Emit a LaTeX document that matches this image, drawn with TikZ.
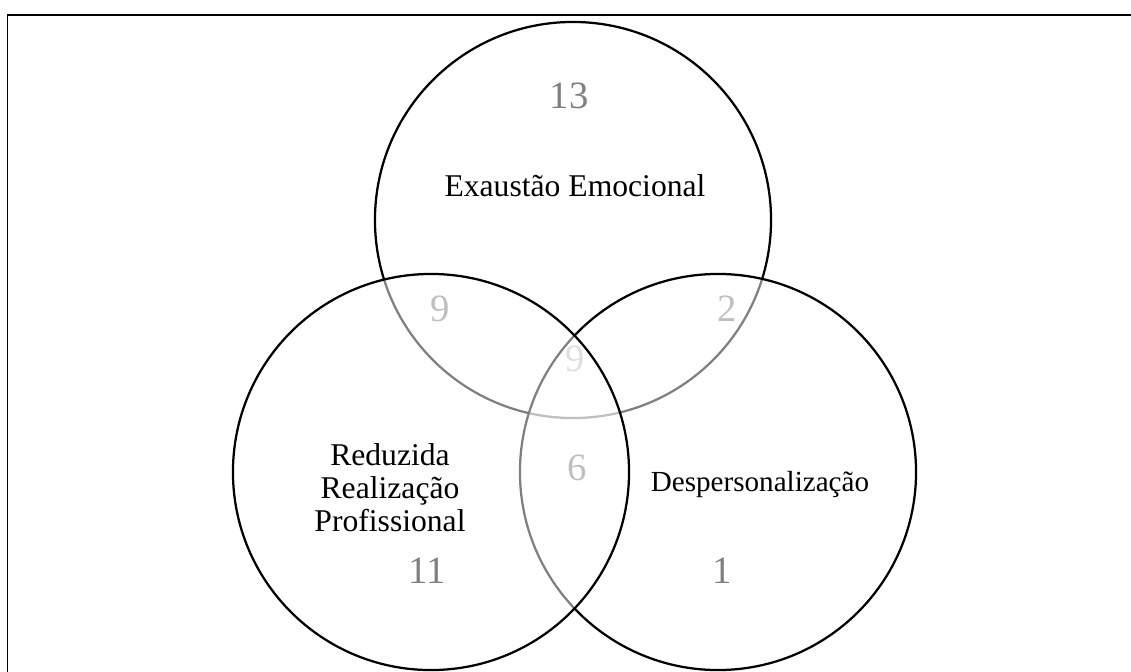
\documentclass[tikz,border=0pt]{standalone}
\usepackage{fontspec}
\setmainfont{Liberation Serif}

\begin{document}
\begin{tikzpicture}[x=0.025cm,y=-0.025cm,
  conj/.style={circle,draw=black,line width=1.6pt,fill=white,fill opacity=0.5,minimum size=9.9cm,inner sep=0pt},
  rotulo/.style={font=\fontsize{22.5}{23.5}\selectfont,align=center,text=black},
  num/.style={font=\fontsize{27.5}{29}\selectfont,text=black}]
\useasboundingbox (0,0) rectangle (1131,671);
\clip (0,0) rectangle (1131,671);
\draw[line width=0.8pt] (7.5,700) -- (7.5,15) -- (1150,15);
% counts sit under the circles
\node[num] (n13) at (569,96) {13};
\node[num] (n9a) at (440,309) {9};
\node[num] (n2) at (727,309) {2};
\node[num] (n9b) at (575,359) {9};
\node[num] (n6) at (577,468) {6};
\node[num] (n11) at (427,571) {11};
\node[num] (n1) at (722,571) {1};
% circles
\node[conj] (ee) at (573,220) {};
\node[conj] (dp) at (718,472) {};
\node[conj] (rp) at (431,472) {};
%\node[conj] (xx) at (573,472) {};
\node[rotulo] (tee) at (575,186) {Exaustão Emocional};
\node[rotulo,font=\fontsize{20.7}{22}\selectfont] (tdp) at (760,484) {Despersonalização};
\node[rotulo] (trp) at (390,488) {Reduzida\\Realização\\Profissional};
\end{tikzpicture}
\end{document}
